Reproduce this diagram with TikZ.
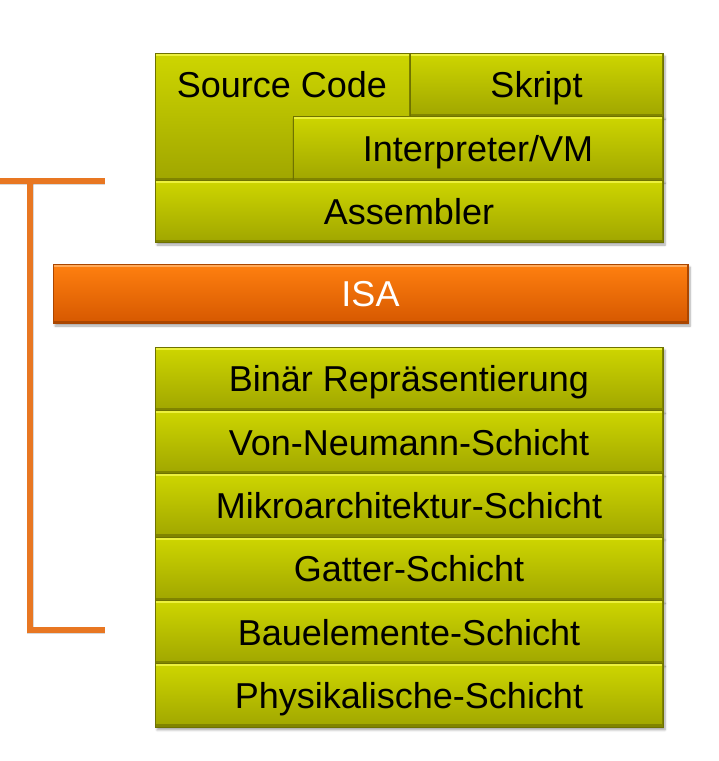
\documentclass[tikz,border=0pt]{standalone}
\usepackage{fontspec}
\setmainfont{Liberation Sans}
\usetikzlibrary{shadows.blur}
\definecolor{lyA}{RGB}{206,214,0}
\definecolor{lyB}{RGB}{160,166,0}
\definecolor{lyHi}{RGB}{236,240,60}
\definecolor{lyDk}{RGB}{128,132,0}
\definecolor{lyLine}{RGB}{110,114,0}
\definecolor{orA}{RGB}{255,128,16}
\definecolor{orB}{RGB}{214,88,0}
\definecolor{orHi}{RGB}{255,170,90}
\definecolor{orDk}{RGB}{170,70,0}
\definecolor{brk}{RGB}{232,119,34}
\tikzset{
  bevel/.style 2 args={path picture={
    \draw[#1,line width=5pt] (path picture bounding box.north west) -- (path picture bounding box.north east);
    \draw[#2,line width=5pt] (path picture bounding box.south west) -- (path picture bounding box.south east);
    \draw[#2,line width=3pt] (path picture bounding box.south east) -- (path picture bounding box.north east);
  }},
  shad/.style={blur shadow={shadow xshift=2pt,shadow yshift=-3pt,shadow blur steps=6,shadow opacity=35}},
  layer/.style={draw=lyLine,line width=0.6pt,top color=lyA,bottom color=lyB,
    bevel={lyHi}{lyDk},shad,inner sep=0pt,
    font=\fontsize{36}{40}\selectfont,text height=26pt,text depth=0pt},
  wide/.style={layer,minimum width=508pt,minimum height=63.3pt},
  txt/.style={inner sep=0pt,font=\fontsize{36}{40}\selectfont,text height=26pt,text depth=0pt},
  brkline/.style={brk,line width=6pt},
  brkshadow/.style={black,opacity=0.15,line width=7pt,shift={(2,3)}},
}
\begin{document}
\begin{tikzpicture}[x=1pt,y=-1pt]
\useasboundingbox (0,0) rectangle (719,761);
% top block
\node[layer,minimum width=255pt,minimum height=127pt] (src) at (282.5,116.5) {};
\node[txt] (srct) at (282,84) {Source Code};
\node[layer,minimum width=253pt,minimum height=63pt] (skr) at (536.5,84.5) {Skript};
\node[layer,minimum width=370pt,minimum height=64pt] (vm) at (478,148) {Interpreter/VM};
\node[layer,minimum width=508pt,minimum height=62pt] (asm) at (409,211) {Assembler};
% ISA
\node[draw=orDk,line width=0.6pt,top color=orA,bottom color=orB,bevel={orHi}{orDk},shad,
  minimum width=635pt,minimum height=59pt,inner sep=0pt,text=white,
  font=\fontsize{36}{40}\selectfont,text height=26pt,text depth=0pt] (isa) at (370.5,293.5) {ISA};
% lower stack
\node[wide] (bin) at (409,378.7) {Binär Repräsentierung};
\node[wide] (vn)  at (409,442.0) {Von-Neumann-Schicht};
\node[wide] (mik) at (409,505.3) {Mikroarchitektur-Schicht};
\node[wide] (gat) at (409,568.7) {Gatter-Schicht};
\node[wide] (bau) at (409,632.0) {Bauelemente-Schicht};
\node[wide] (phy) at (409,695.3) {Physikalische-Schicht};
% bracket
\coordinate (b0) at (0,181);
\coordinate (b1) at (105,181);
\coordinate (bt) at (30,181);
\coordinate (bb) at (30,630);
\coordinate (b2) at (105,630);
\draw[brkshadow] (b0) -- (b1);
\draw[brkshadow] (bt) -- (bb) -- (b2);
\draw[brkline] (b0) -- (b1);
\draw[brkline] (bt) -- (bb) -- (b2);
\end{tikzpicture}
\end{document}
